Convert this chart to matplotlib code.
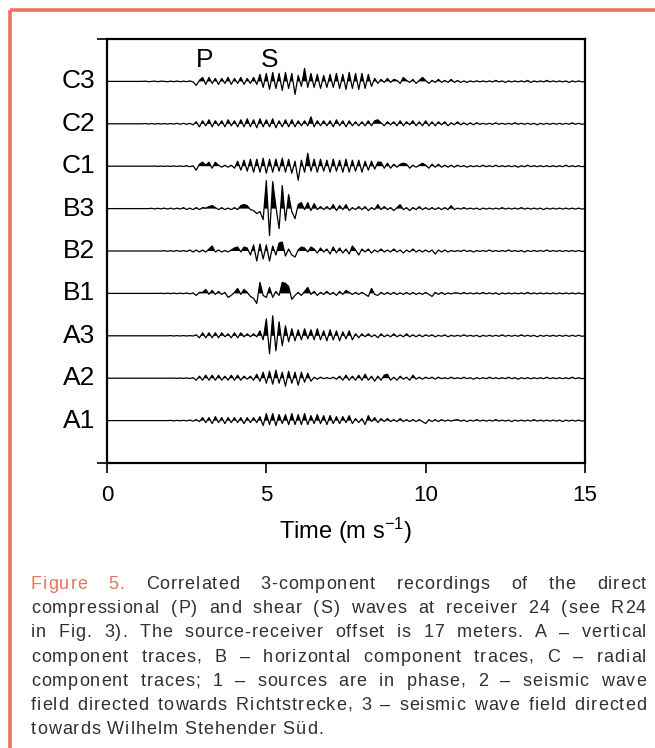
import numpy as np
import matplotlib
matplotlib.use("Agg")
import matplotlib.pyplot as plt
from matplotlib.lines import Line2D

plt.rcParams['font.family'] = ['Liberation Sans', 'DejaVu Sans']
plt.rcParams['mathtext.fontset'] = 'custom'
plt.rcParams['mathtext.rm'] = 'Liberation Sans'
plt.rcParams['mathtext.it'] = 'Liberation Sans:italic'

# ---------------- data ----------------
trace_labels = ["A1", "A2", "A3", "B1", "B2", "B3", "C1", "C2", "C3"]
x_ticks = [0, 5, 10, 15]
sample_interval_ms = 0.1   # amplitudes sampled every 0.1 ms from t = 0

A1 = [0, 0, 0, 0, 0, 0, 0, 0, 0, 0,
      0, 0, 0, 0, 0, 0, 0, 0, 0, 0,
      .2, -.2, .2, -.2, .3, -.3, .5, -.5, 1, -1,
      3, -2, 3, -3, 4, -2, 3, -3, 3, -2,
      3, -2, 3, -3, 3, -2, 3, -2, 4, -5,
      7, -4, 7, -5, 6, -3, 6, -4, 7, -4,
      6, -4, 7, -4, 5, -3, 6, -3, 5, -4,
      5, -3, 4, -3, 4, -2, 5, -3, 2, -2,
      2, -4, 5, -1, 3, -2, 2, -1, 2, -1,
      1, -1, 2, -1, 1, -1, 1, -1, 1, -1,
      -3, 1, -1, 1, -1, 1, -.5, .5, -.5, .5,
      1, -.5, .5, -1, .5, -.5, 1, -.5, .5, -.5,
      .5, -.5, 1, -.5, .5, -.5, .5, -1, .5, -.5,
      .5, -.5, .5, -.5, 1, -.5, .5, -.5, .5, -.5,
      .5, -.5, .5, -1, .5, -.5, .5, -.5, .5, -.5, 0]

A2 = [0, 0, 0, 0, 0, 0, 0, 0, 0, 0,
      0, 0, 0, 0, 0, 0, 0, 0, 0, 0,
      0, .2, -.2, .2, -.2, .3, -.3, .5, -2, 2,
      -2, 3, -2, 3, -2, 3, -2, 2, -2, 3,
      -2, 3, -2, 2, -1, 2, -2, 4, -3, 6,
      -5, 7, -6, 8, -5, 6, -8, 7, -5, 6,
      -7, 6, -4, 5, -3, 1, -1, 1, -.5, .5,
      -.5, 1, -1, 2, -2, 3, -2, 2, -2, 3,
      -2, 4, -2, 2, -3, 2, -2, 3, 4, -2,
      1, -2, 2, -1, 1, -2, 3, -1, 1, -1,
      1, -.5, 1, -1, 1, -.5, .5, -.5, 1, -.5,
      .5, -.5, 1, -.5, .5, -1, .5, -.5, .5, -.5,
      1, -.5, .5, -.5, .5, -.5, 1, -.5, .5, -1,
      .5, -.5, .5, -.5, .5, -.5, .5, -.5, 1, -.5,
      .5, -.5, .5, -.5, .5, -.5, 1, -.5, .5, -.5, 0]

A3 = [0, 0, 0, 0, 0, 0, 0, 0, 0, 0,
      0, 0, 0, 0, 0, 0, 0, 0, 0, 0,
      .2, -.2, .2, -.2, .2, -.2, .2, -.2, 1, -2,
      3, -2, 3, -2, 3, -2, 3, -1, 2, -2,
      3, -2, 3, -1, 2, -1, 2, -1, 5, -4,
      17, -18, 20, -15, 14, -10, 10, -6, 7, -5,
      6, -4, 7, -3, 6, -4, 7, -4, 5, -5,
      6, -4, 5, -5, 4, -3, 5, -4, 2, -2,
      2, -1, 2, -1, 1, -2, 2, -1, 1, -1,
      2, -1, 1, -1, 2, -1, 1, -1, 1, -1,
      1, -.5, 1, -1, .5, -.5, 1, -1, .5, -.5,
      .5, -.5, 1, -.5, .5, -.5, .5, -1, .5, -.5,
      .5, -.5, .5, -.5, 1, -.5, .5, -.5, .5, -.5,
      1, -.5, .5, -.5, .5, -1, .5, -.5, .5, -.5,
      .5, -.5, .5, -.5, .5, -.5, .5, -.5, .5, -.5, 0]

B1 = [0, 0, 0, 0, 0, 0, 0, 0, 0, 0,
      0, 0, 0, 0, 0, 0, 0, .2, -.2, .2,
      -.2, .3, -.3, .3, -.3, .5, -.5, .5, -2, 1,
      1, 4, -1, 3, -1, 2, -1, 1, -4, -2,
      1, 5, -1, 4, 1, -3, -5, -10, 11, -2,
      -4, 6, -4, 2, -2, 11, 10, 7, -6, -2,
      1, -2, 2, 6, -1, 2, -2, 1, -1, 2,
      -1, 1, -2, 2, -1, 3, 1, -1, 1, -1,
      1, -1, -3, 5, -1, -2, 1, -1, 1, -1,
      1, -1, .5, -1, 1, -1, 1, -1, .5, -1,
      1, -1, -3, 1, -1, 1, -1, .5, -.5, .5,
      .5, -.5, 1, -.5, .5, -.5, .5, -.5, 1, -.5,
      .5, -.5, .5, -1, .5, -.5, .5, -.5, .5, -.5,
      .5, -.5, 1, -.5, .5, -.5, .5, -.5, .5, -.5,
      .5, -.5, .5, -.5, .5, -.5, .5, -.5, .5, -.5, 0]

B2 = [0, 0, 0, 0, 0, 0, 0, 0, 0, 0,
      0, 0, 0, 0, 0, 0, 0, 0, .3, -.3,
      .3, -.3, .5, -.5, .5, -.5, 1, -1, 1, -1,
      1, -1, 2, 5, -1, 1, -1, .5, -1, 1,
      3, 4, -1, 4, 3, -4, 6, -10, 7, -8,
      6, -10, 5, -4, 8, 9, -5, 2, -4, -6,
      1, 4, 3, -1, 4, 2, -2, 3, -1, 2,
      -3, 4, -2, 3, -2, 2, -3, 5, 1, -4,
      2, -1, 2, -2, 1, -1, 2, -1, 1, -1,
      2, -1, 1, -2, 1, -1, 2, -1, 1, -1,
      1, -1, 1, -3, 1, -1, 1, -1, .5, -.5,
      .5, -.5, 1, -.5, .5, -1, .5, -.5, .5, -.5,
      1, -.5, .5, -.5, .5, -.5, 1, -.5, .5, -.5,
      .5, -1, .5, -.5, .5, -.5, .5, -.5, 1, -.5,
      .5, -.5, .5, -.5, .5, -.5, .5, -.5, .5, -.5, 0]

B3 = [0, 0, 0, 0, 0, 0, 0, 0, 0, 0,
      0, 0, 0, 0, .3, -.3, .3, -.3, .5, -.5,
      .5, -.5, .5, -.5, 1, -1, .5, -1, 1, -1,
      1, .5, 2, 3, 1, -1, 1, -1, .5, -1,
      1, -1, 3, 4, 3, -1, -2, -5, -3, -11,
      28, -27, 27, 2, -20, 23, -12, 14, -3, -10,
      4, 6, -1, 6, -2, 5, -1, 2, -1, 2,
      -1, 4, -2, 3, -1, 4, -2, 1, -1, 2,
      -1, 2, -2, 1, -1, 4, -1, 2, -1, 1,
      -2, 1, 4, -1, 1, -2, 1, -1, 2, -1,
      1, -1, 1, -1, 1, -1, 1, -1, 3, -1,
      .5, -.5, 1, -.5, .5, -.5, .5, -1, .5, -.5,
      .5, -.5, .5, -.5, 1, -.5, .5, -.5, .5, -.5,
      1, -.5, .5, -.5, .5, -.5, .5, -1, .5, -.5,
      .5, -.5, .5, -.5, .5, -.5, .5, -.5, .5, -.5, 0]

C1 = [0, 0, 0, 0, 0, 0, 0, 0, 0, 0,
      0, 0, 0, 0, 0, .2, -.2, .2, -.2, .2,
      -.2, .3, -.3, .3, -.3, .5, -.5, .5, -4, 2,
      4, 1, 4, -2, 4, 1, -1, 1, -1, 1,
      -2, 5, -4, 6, -5, 7, -6, 7, -6, 8,
      -7, 7, -6, 7, -5, 8, -6, 7, -7, 5,
      -14, 6, -6, 13, -5, 7, -6, 7, -5, 6,
      -6, 7, -5, 6, -6, 7, -6, 6, -5, 6,
      -6, 5, -4, 5, -3, 4, 4, -2, 3, -2,
      2, -1, 2, 3, 2, -2, 1, -1, 1, 3,
      1, -2, 2, -1, 2, -1, 1, -1, 1, -1,
      1, -.5, .5, -1, .5, -.5, .5, -.5, 1, -.5,
      .5, -.5, 1, -.5, .5, -.5, .5, -.5, .5, -1,
      .5, -.5, 1, -.5, .5, -.5, .5, -.5, .5, -.5,
      .5, -.5, .5, -.5, 1, -.5, .5, -.5, .5, -.5, 0]

C2 = [0, 0, 0, 0, 0, 0, 0, 0, 0, 0,
      0, 0, .3, -.3, .3, -.3, .3, -.3, .3, -.3,
      .3, -.3, .5, -.5, .5, -.5, .5, -1, 2, -3,
      3, -2, 4, -3, 3, -2, 3, -3, 4, -2,
      3, -3, 4, -3, 5, -3, 4, -4, 5, -3,
      4, -3, 5, -4, 3, -3, 4, -3, 4, -3,
      3, -2, 3, -2, 7, -3, 3, -2, 3, -2,
      3, -3, 4, -2, 3, -3, 3, -2, 2, -2,
      2, -2, 3, -2, 3, 4, 1, -2, 2, -1,
      2, -2, 3, -2, 2, -1, 3, -2, 2, -2,
      3, -2, 2, -2, 2, -1, 2, -2, 1, -1,
      2, -1, 1, -1, 1, -1, 1, -.5, .5, -.5,
      .5, -.5, 1, -.5, .5, -.5, .5, -.5, 1, -.5,
      .5, -.5, .5, -.5, .5, -1, .5, -.5, .5, -.5,
      .5, -.5, .5, -.5, .5, -.5, 1, -.5, .5, -.5, 0]

C3 = [0, 0, 0, 0, 0, 0, 0, 0, 0, 0,
      0, 0, .3, -.3, 0, .3, -.3, .3, 0, -.3,
      .3, -.3, .4, -.4, .3, -.3, .5, -.5, -4, 1,
      4, -3, 4, -2, 3, -3, 3, -2, 4, -3,
      3, -2, 4, -3, 3, -2, 4, -3, 7, -6,
      8, -8, 9, -7, 8, -9, 9, -7, 8, -13,
      6, -5, 13, -6, 8, -6, 7, -7, 6, -6,
      7, -6, 8, -7, 7, -8, 9, -7, 8, -8,
      8, -7, 7, -5, 3, -2, 2, -1, 3, -1,
      2, 1, -2, 4, 1, -1, 2, -2, 1, 4,
      1, -2, 1, -1, 2, -1, 1, -1, 2, -1,
      1, -1, .5, -1, .5, -.5, .5, -.5, .5, -.5,
      .5, -.5, 1, -.5, .5, -1, .5, -.5, .5, -.5,
      .5, -.5, 1, -1, .5, -.5, .5, -.5, 1, -.5,
      .5, -.5, .5, -.5, .5, -1, .5, -.5, .5, -.5, 0]

traces = [A1, A2, A3, B1, B2, B3, C1, C2, C3]

phase_labels = ["P", "S"]
phase_times = [3.05, 5.1]

caption_lines = [
    "Figure 5. Correlated 3-component recordings of the direct",
    "compressional (P) and shear (S) waves at receiver 24 (see R24",
    "in Fig. 3). The source-receiver offset is 17 meters. A \u2013 vertical",
    "component traces, B \u2013 horizontal component traces, C \u2013 radial",
    "component traces; 1 \u2013 sources are in phase, 2 \u2013 seismic wave",
    "field directed towards Richtstrecke, 3 \u2013 seismic wave field directed",
    "towards Wilhelm Stehender S\u00fcd.",
]

# ---------------- styling ----------------
W, H = 655, 748
ACCENT = "#E8735F"
TEXT_GREY = "#303030"
GAIN = 1 / 42.4   # trace amplitude units -> offset units

fig = plt.figure(figsize=(W / 100, H / 100), dpi=100)

# frame (top and left salmon border)
fig.add_artist(Line2D([10 / W, 1.0], [1 - 10 / H, 1 - 10 / H], color=ACCENT, lw=2.6,
                      transform=fig.transFigure, solid_capstyle='butt'))
fig.add_artist(Line2D([10 / W, 10 / W], [0, 1 - 10 / H], color=ACCENT, lw=2.6,
                      transform=fig.transFigure, solid_capstyle='butt'))

ax = fig.add_axes([107 / W, 1 - 463 / H, (585 - 107) / W, (463 - 39) / H])

for i, (lab, amp) in enumerate(zip(trace_labels, traces)):
    base = i + 1
    a = np.asarray(amp, dtype=float)
    t = np.arange(len(a)) * sample_interval_ms
    y = base + a * GAIN
    ax.fill_between(t, base, y, where=y > base, interpolate=True,
                    color="black", lw=0)
    ax.plot(t, y, color="black", lw=0.9)
    ax.text(-0.025, base, lab, transform=ax.get_yaxis_transform(),
            ha="right", va="center", fontsize=19)

for lab, tt in zip(phase_labels, phase_times):
    ax.text(tt, 9.5, lab, ha="center", va="center", fontsize=19)

ax.set_xlim(0, 15)
ax.set_ylim(0, 10)
ax.set_xticks(x_ticks)
ax.set_xticklabels([str(v) for v in x_ticks], fontsize=16)
ax.set_yticks([0, 10])
ax.set_yticklabels([])
ax.tick_params(axis="both", direction="out", length=7, width=1.2, pad=9)
for s in ax.spines.values():
    s.set_linewidth(1.6)
ax.set_xlabel("Time (m s$^{-1}$)", fontsize=17, labelpad=7)

# ---------------- justified, letter-spaced caption ----------------
renderer = fig.canvas.get_renderer()
left_px, right_px = 31, 646
base0, line_step = 589, 24.2
cap_fs = 13.0
tracking = 1.0   # extra px between letters
_cache = {}

def char_width(c):
    if c not in _cache:
        t = fig.text(0, 0, "|" + c + "|", fontsize=cap_fs)
        w_all = t.get_window_extent(renderer).width
        t.remove()
        if "bar" not in _cache:
            tb = fig.text(0, 0, "||", fontsize=cap_fs)
            _cache["bar"] = tb.get_window_extent(renderer).width
            tb.remove()
        _cache[c] = w_all - _cache["bar"]
    return _cache[c]

def word_width(word):
    return sum(char_width(c) for c in word) + tracking * (len(word) - 1)

space_w = char_width(" ") + 2 * tracking

for li, line in enumerate(caption_lines):
    words = line.split(" ")
    widths = [word_width(w) for w in words]
    y_px = base0 + li * line_step
    if li < len(caption_lines) - 1 and len(words) > 1:
        gap = (right_px - left_px - sum(widths)) / (len(words) - 1)
    else:
        gap = space_w
    x = left_px
    for wi, (w, ww) in enumerate(zip(words, widths)):
        col = ACCENT if (li == 0 and wi < 2) else TEXT_GREY
        cx = x
        for c in w:
            fig.text(cx / W, 1 - y_px / H, c, fontsize=cap_fs, color=col,
                     ha="left", va="baseline")
            cx += char_width(c) + tracking
        x += ww + gap

fig.savefig("out.png", dpi=100)
